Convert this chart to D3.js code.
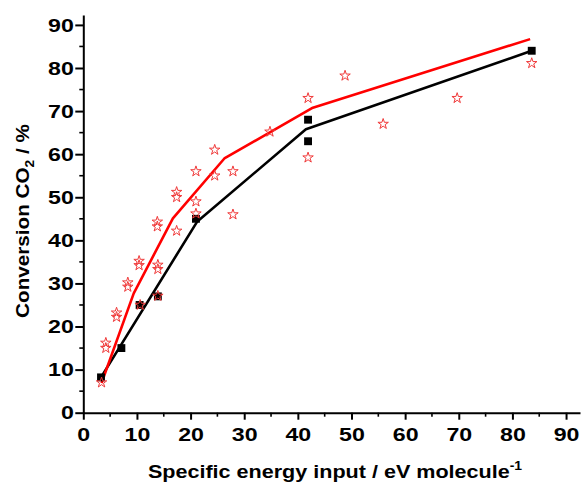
<!DOCTYPE html>
<html><head><meta charset="utf-8">
<script src="https://cdn.jsdelivr.net/npm/d3@7"></script>
<style>
html,body{margin:0;padding:0;background:#fff;}
text{font-family:"Liberation Sans",Arial,sans-serif;font-weight:bold;}
</style></head>
<body>
<svg id="chart" width="581" height="482"></svg>
<script>
// ---- data ----
const xTicks = [0,10,20,30,40,50,60,70,80,90];
const yTicks = [0,10,20,30,40,50,60,70,80,90];
const squareX = [3.3, 7.1, 10.5, 13.9, 21.0, 41.9, 41.9, 83.6];
const squareY = [8.2, 15.0, 25.0, 27.0, 45.0, 68.0, 63.0, 84.0];
const starX = [3.4, 4.2, 4.2, 6.2, 6.2, 8.3, 8.3, 10.4, 10.4, 10.6, 13.9, 13.9, 13.9, 13.8, 13.8, 17.4, 17.4, 17.4, 21.0, 21.0, 21.0, 24.5, 24.5, 27.9, 27.9, 34.8, 41.9, 41.9, 48.8, 55.9, 69.7, 83.6];
const starY = [7.0, 16.2, 15.0, 23.2, 22.2, 30.2, 29.2, 35.2, 34.2, 25.0, 34.3, 33.3, 27.1, 44.3, 43.2, 51.2, 50.0, 42.2, 56.0, 49.0, 46.2, 61.0, 55.0, 56.0, 46.0, 65.2, 73.0, 59.2, 78.2, 67.0, 73.0, 81.1];
const blackLineX = [3.3, 21.2, 41.5, 83.6];
const blackLineY = [8.2, 44.3, 65.8, 84.0];
const redLineX = [3.4, 9.4, 16.7, 26.3, 42.8, 83.3];
const redLineY = [6.9, 27.7, 45.1, 59.0, 70.8, 86.7];

const svg = d3.select("#chart");
const x = d3.scaleLinear().domain([0, 92.6]).range([83.3, 580]);
const y = d3.scaleLinear().domain([0, 92.3]).range([412.7, 15]);

const stretch = 1.22;

// minor ticks
const minorX = d3.range(5, 92, 10);
const minorY = d3.range(5, 92, 10);
svg.append("g").selectAll("line").data(minorX).join("line")
  .attr("x1", d => x(d)).attr("x2", d => x(d))
  .attr("y1", y(0)).attr("y2", y(0) + 4)
  .attr("stroke", "#000").attr("stroke-width", 1.6);
svg.append("g").selectAll("line").data(minorY).join("line")
  .attr("y1", d => y(d)).attr("y2", d => y(d))
  .attr("x1", x(0)).attr("x2", x(0) - 4)
  .attr("stroke", "#000").attr("stroke-width", 1.6);

// axes
const gx = svg.append("g").attr("transform", `translate(0,${y(0)})`)
  .call(d3.axisBottom(x).tickValues(xTicks).tickSize(7).tickPadding(8).tickSizeOuter(0));
const gy = svg.append("g").attr("transform", `translate(${x(0)},0)`)
  .call(d3.axisLeft(y).tickValues(yTicks).tickSize(8).tickPadding(1.5).tickSizeOuter(0));
[gx, gy].forEach(g => {
  g.select(".domain").attr("stroke", "#000").attr("stroke-width", 2);
  g.selectAll(".tick line").attr("stroke", "#000").attr("stroke-width", 2);
  g.selectAll(".tick text").attr("font-size", 19).attr("fill", "#000")
    .attr("font-family", "'Liberation Sans',Arial,sans-serif").attr("font-weight", "bold");
});
gx.selectAll(".tick text").attr("transform", `scale(${stretch},1)`);
gy.selectAll(".tick text").attr("x", -9.5 / stretch).attr("transform", `scale(${stretch},1)`);

// lines
const lineGen = d3.line().x(d => x(d[0])).y(d => y(d[1]));
svg.append("path").datum(blackLineX.map((v, i) => [v, blackLineY[i]]))
  .attr("d", lineGen).attr("fill", "none").attr("stroke", "#000")
  .attr("stroke-width", 2.6).attr("stroke-linejoin", "round");
svg.append("path").datum(redLineX.map((v, i) => [v, redLineY[i]]))
  .attr("d", lineGen).attr("fill", "none").attr("stroke", "#ff0000")
  .attr("stroke-width", 2.6).attr("stroke-linejoin", "round");

// squares
svg.append("g").selectAll("path").data(squareX.map((v, i) => [v, squareY[i]])).join("path")
  .attr("transform", d => `translate(${x(d[0])},${y(d[1])})`)
  .attr("d", d3.symbol(d3.symbolSquare, 62)).attr("fill", "#000");

// stars
svg.append("g").selectAll("path").data(starX.map((v, i) => [v, starY[i]])).join("path")
  .attr("transform", d => `translate(${x(d[0])},${y(d[1])})`)
  .attr("d", d3.symbol(d3.symbolStar, 34)).attr("fill", "none")
  .attr("stroke", "#f03a3a").attr("stroke-width", 1);

// axis titles
svg.append("text")
  .attr("transform", `translate(335,478) scale(1.16,1)`)
  .attr("text-anchor", "middle").attr("font-size", 18.6).attr("fill", "#000")
  .call(t => {
    t.append("tspan").text("Specific energy input / eV molecule");
    t.append("tspan").attr("dy", -8).attr("font-size", 12).text("-1");
  });
svg.append("text")
  .attr("transform", `translate(29,221) rotate(-90) scale(1.15,1)`)
  .attr("text-anchor", "middle").attr("font-size", 18).attr("fill", "#000")
  .call(t => {
    t.append("tspan").text("Conversion CO");
    t.append("tspan").attr("dy", 5).attr("font-size", 12).text("2");
    t.append("tspan").attr("dy", -5).text(" / %");
  });
</script>
</body></html>
